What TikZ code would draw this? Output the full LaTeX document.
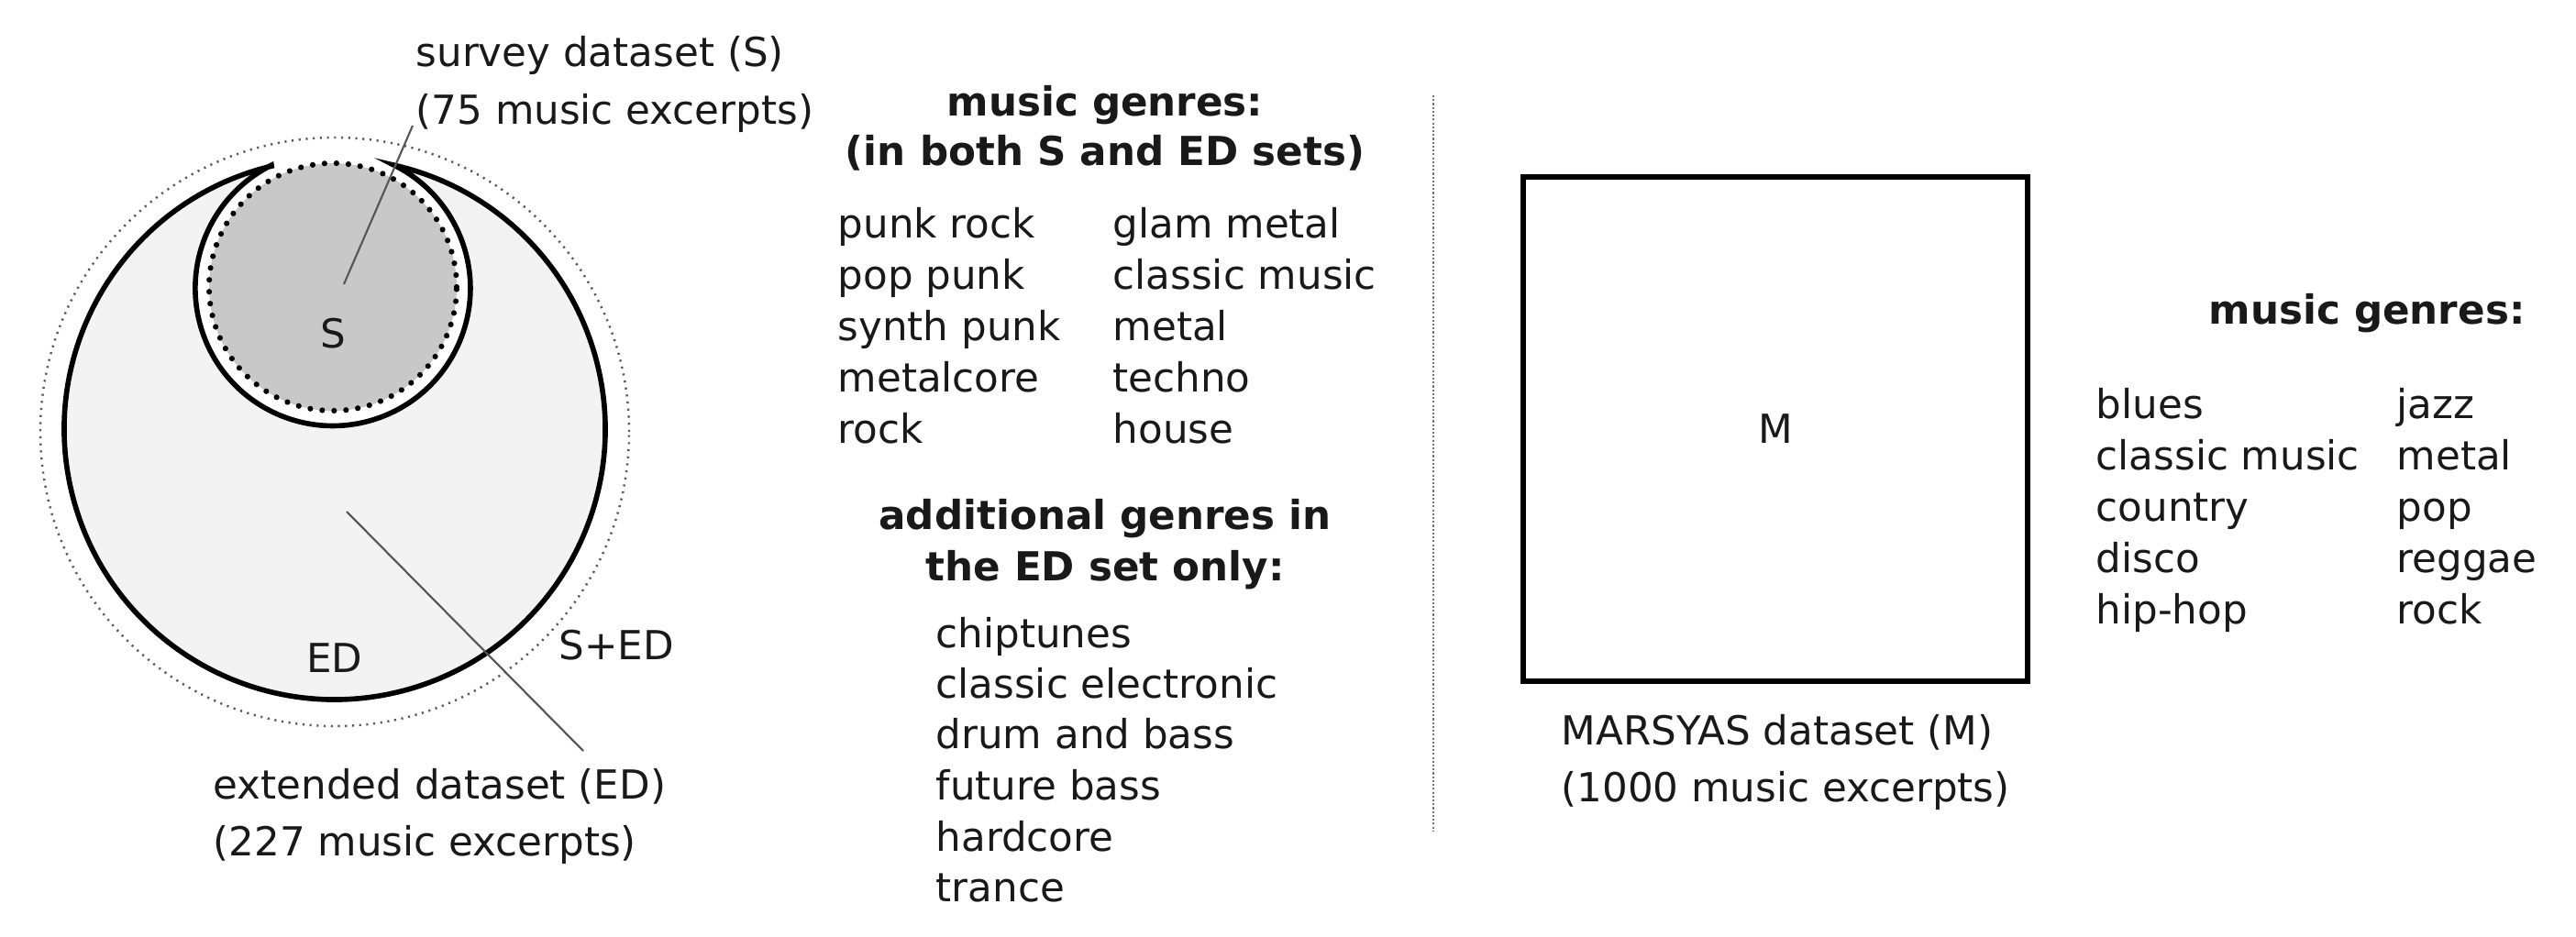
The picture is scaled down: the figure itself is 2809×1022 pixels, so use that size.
\documentclass[tikz,border=0pt]{standalone}
\usepackage{fontspec}
\setmainfont{DejaVu Sans}
\definecolor{edfill}{RGB}{243,243,243}
\definecolor{sfill}{RGB}{200,200,200}
\definecolor{leader}{RGB}{85,85,85}
\definecolor{txt}{RGB}{25,25,25}
\begin{document}
\begin{tikzpicture}[x=0.01cm,y=0.01cm,
  txtfont/.style={font=\fontsize{12.4pt}{15pt}\selectfont, text=txt},
  lbl/.style={txtfont, anchor=base west, inner sep=0pt},
  ctr/.style={txtfont, anchor=base, inner sep=0pt},
  hd/.style={font=\fontsize{12.4pt}{15pt}\selectfont\bfseries, text=txt, anchor=base, inner sep=0pt},
  hdl/.style={hd, anchor=base west},
  solidline/.style={draw=black, line width=1.6pt},
  leaderline/.style={draw=leader, line width=0.6pt},
  outerdots/.style={draw=black!65, line width=0.7pt, dash pattern=on 0.6pt off 1.6pt},
  sdots/.style={draw=black, line width=1.75pt, line cap=round, dash pattern=on 0pt off 3.7pt},
  divider/.style={draw=black!55, line width=0.55pt, dash pattern=on 0.6pt off 0.6pt}
]
\useasboundingbox[fill=white] (0,0) rectangle (2809,-1022);

% ---------- left: Venn-like diagram ----------
\coordinate (Ec) at (365,-468);
\coordinate (Sc) at (363,-315);
\coordinate (Dc) at (363,-313);
\draw[outerdots] (365,-471) circle[radius=321];
% crescent ED region
\path[solidline, fill=edfill] (Ec) ++(103.5:295) arc[start angle=103.5, end angle=437.3, radius=295]
   arc[start angle=63.5, end angle=-243.5, radius=150] -- cycle;
% S inner dotted circle
\fill[sfill] (Dc) circle[radius=135];
\draw[sdots] (Dc) circle[radius=135];

\node[ctr] (Slab) at (363,-380) {S};
\node[ctr] (EDlab) at (365,-733) {ED};
\node[lbl] (SEDlab) at (609,-720) {S+ED};
\node[lbl] (sv1) at (453,-73) {survey dataset (S)};
\node[lbl] (sv2) at (453,-136) {(75 music excerpts)};
\node[lbl] (ex1) at (232,-871) {extended dataset (ED)};
\node[lbl] (ex2) at (232,-933) {(227 music excerpts)};

\coordinate (lS1) at (375,-310);
\coordinate (lS2) at (450,-137);
\coordinate (lE1) at (378,-558);
\coordinate (lE2) at (636,-819);
\draw[leaderline] (lS1) -- (lS2);
\draw[leaderline] (lE1) -- (lE2);

% ---------- middle: genre lists ----------
\node[hd] (h1) at (1205,-127) {music genres:};
\node[hd] (h2) at (1205,-181) {(in both S and ED sets)};
\foreach \t [count=\i from 0] in {punk rock,pop punk,synth punk,metalcore,rock}
  \node[lbl] (ga\i) at (913,-259.5-56.1*\i) {\t};
\foreach \t [count=\i from 0] in {glam metal,classic music,metal,techno,house}
  \node[lbl] (gb\i) at (1213,-259.5-56.1*\i) {\t};
\node[hd] (h3) at (1205,-578) {additional genres in};
\node[hd] (h4) at (1205,-634) {the ED set only:};
\foreach \t [count=\i from 0] in {chiptunes,classic electronic,drum and bass,future bass,hardcore,trance}
  \node[lbl] (ge\i) at (1020,-706-55.5*\i) {\t};

\coordinate (dv1) at (1563,-104);
\coordinate (dv2) at (1563,-907);
\draw[divider] (dv1) -- (dv2);

% ---------- right: MARSYAS ----------
\node[draw=black, line width=1.85pt, minimum width=5.5cm, minimum height=5.5cm, inner sep=0pt, txtfont] (M) at (1936,-468) {M};
\node[lbl] (mr1) at (1702,-812) {MARSYAS dataset (M)};
\node[lbl] (mr2) at (1702,-874) {(1000 music excerpts)};
\node[hdl] (h5) at (2408,-353.6) {music genres:};
\foreach \t [count=\i from 0] in {blues,classic music,country,disco,hip-hop}
  \node[lbl] (ma\i) at (2285,-456.5-56.1*\i) {\t};
\foreach \t [count=\i from 0] in {jazz,metal,pop,reggae,rock}
  \node[lbl] (mb\i) at (2613,-456.5-56.1*\i) {\t};
\end{tikzpicture}
\end{document}
